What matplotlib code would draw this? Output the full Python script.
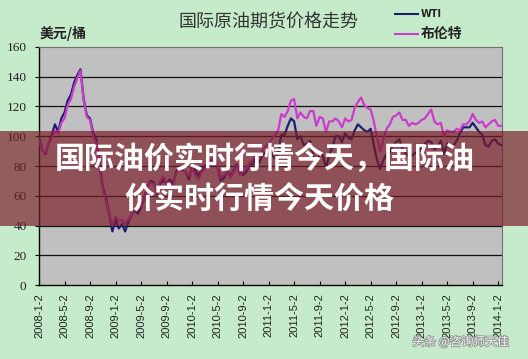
import matplotlib
matplotlib.use("Agg")
import matplotlib.pyplot as plt
import matplotlib.patheffects as pe
from matplotlib.patches import Rectangle
import numpy as np

# semi-monthly closing prices, USD/bbl, 2008-01 .. 2014-01
wti = [
    99, 91, 88, 95, 101, 108, 103, 112, 116, 124, 128, 136,
    141, 145, 125, 114, 112, 102, 98, 80, 66, 58, 48, 36,
    44, 38, 41, 36, 42, 47, 50, 48, 52, 58, 66, 70,
    69, 61, 68, 71, 68, 71, 68, 76, 79, 77, 76, 71,
    80, 77, 73, 78, 80, 81, 84, 84, 79, 70, 72, 77,
    73, 77, 81, 75, 74, 76, 81, 81, 86, 82, 87, 89,
    89, 88, 85, 89, 101, 101, 107, 112, 110, 98, 100, 94,
    95, 97, 87, 82, 88, 87, 79, 87, 93, 100, 100, 96,
    102, 99, 98, 104, 108, 106, 104, 103, 105, 94, 84, 78,
    84, 88, 89, 94, 96, 98, 91, 89, 86, 87, 89, 88,
    93, 95, 97, 96, 91, 93, 97, 88, 95, 93, 94, 97,
    102, 106, 106, 106, 109, 106, 103, 101, 94, 93, 97, 98,
    95, 94,
]
brent = [
    97, 90, 89, 95, 99, 104, 102, 109, 112, 121, 125, 133,
    139, 144, 124, 113, 111, 100, 95, 78, 64, 56, 48, 40,
    46, 43, 44, 41, 44, 47, 50, 51, 53, 59, 66, 69,
    68, 62, 70, 73, 69, 69, 66, 75, 78, 77, 76, 73,
    79, 74, 71, 76, 78, 80, 84, 86, 80, 72, 74, 76,
    72, 76, 80, 74, 76, 78, 82, 84, 88, 85, 90, 93,
    95, 98, 101, 104, 115, 113, 117, 124, 125, 112, 116, 113,
    112, 117, 117, 107, 113, 112, 103, 110, 110, 112, 110, 106,
    112, 110, 111, 119, 123, 126, 121, 119, 118, 110, 99, 90,
    98, 105, 108, 113, 114, 116, 111, 111, 107, 109, 108, 109,
    111, 112, 115, 118, 110, 108, 109, 100, 104, 103, 103, 105,
    104, 108, 108, 110, 115, 111, 109, 110, 106, 108, 110, 111,
    107, 107,
]
tick_labels = [
    "2008-1-2", "2008-5-2", "2008-9-2", "2009-1-2", "2009-5-2", "2009-9-2",
    "2010-1-2", "2010-5-2", "2010-9-2", "2011-1-2", "2011-5-2", "2011-9-2",
    "2012-1-2", "2012-5-2", "2012-9-2", "2013-1-2", "2013-5-2", "2013-9-2",
    "2014-1-2",
]
y_ticks = [0, 20, 40, 60, 80, 100, 120, 140, 160]

months = np.arange(len(wti)) * 0.5
tick_pos = np.arange(len(tick_labels)) * 4

BG = "#c6ebcb"
PLOT_BG = "#c0c0c0"
WTI_C = "#1c1f6e"
BRENT_C = "#cc3ccc"
CJK = ["Noto Sans CJK SC", "DejaVu Sans"]

fig = plt.figure(figsize=(5.28, 3.59), dpi=100, facecolor=BG)
ax = fig.add_axes([0.0739, 0.2061, 0.8769, 0.6630])
ax.set_facecolor(PLOT_BG)

ax.plot(months, wti, color=WTI_C, lw=1.6, zorder=3)
ax.plot(months, brent, color=BRENT_C, lw=1.6, zorder=4)

ax.set_xlim(0, 72.6)
ax.set_ylim(0, 160)
ax.set_yticks(y_ticks)
ax.set_yticklabels([str(v) for v in y_ticks], family="Liberation Serif",
                   fontsize=9.5, color="#222222")
ax.set_xticks(tick_pos)
ax.set_xticklabels(tick_labels, rotation=90, family="Liberation Sans",
                   fontsize=8, color="#222222")
ax.tick_params(axis="x", direction="in", length=3, width=0.8, pad=6)
ax.tick_params(axis="y", direction="out", length=3, width=0.8, pad=6)
for v in y_ticks[1:-1]:
    ax.axhline(v, color="#111111", lw=0.9, zorder=1)
for side in ("top", "right"):
    ax.spines[side].set_color("#707070")
for side in ("left", "bottom"):
    ax.spines[side].set_color("#000000")
    ax.spines[side].set_linewidth(1.0)

# header texts
fig.text(0.508, 0.938, "国际原油期货价格走势", family=CJK, fontsize=13,
         color="#333333", ha="center", va="center")
fig.text(0.075, 0.908, "美元/桶", family=CJK, fontsize=10, weight="bold",
         color="#222222", ha="left", va="center")
fig.add_artist(plt.Line2D([0.748, 0.792], [0.961, 0.961], color=WTI_C, lw=1.5))
fig.add_artist(plt.Line2D([0.748, 0.792], [0.905, 0.905], color=BRENT_C, lw=1.5))
fig.text(0.797, 0.961, "WTI", family="DejaVu Sans", fontsize=7, weight="bold",
         color="#222222", ha="left", va="center")
fig.text(0.797, 0.905, "布伦特", family=CJK, fontsize=10, weight="bold",
         color="#222222", ha="left", va="center")

# translucent banner with headline
fig.patches.append(Rectangle((0, 1 - 226 / 359), 1, 95 / 359,
                             transform=fig.transFigure, facecolor=(120 / 255, 27 / 255, 39 / 255),
                             alpha=0.68, edgecolor="none", zorder=5))
fig.text(0.502, 1 - 160 / 359, "国际油价实时行情今天，国际油", family=CJK,
         fontsize=21.6, weight="bold", color="white", ha="center", va="center", zorder=6)
fig.text(0.491, 1 - 200 / 359, "价实时行情今天价格", family=CJK,
         fontsize=21.6, weight="bold", color="white", ha="center", va="center", zorder=6)

fig.text(0.872, 1 - 342 / 359, "头条 @咨询师天佳", family=CJK, fontsize=8.5,
         color="white", alpha=0.9, ha="center", va="center", zorder=6,
         path_effects=[pe.withStroke(linewidth=1.2, foreground="#888888")])

fig.savefig("out.png", dpi=100, facecolor=BG)
